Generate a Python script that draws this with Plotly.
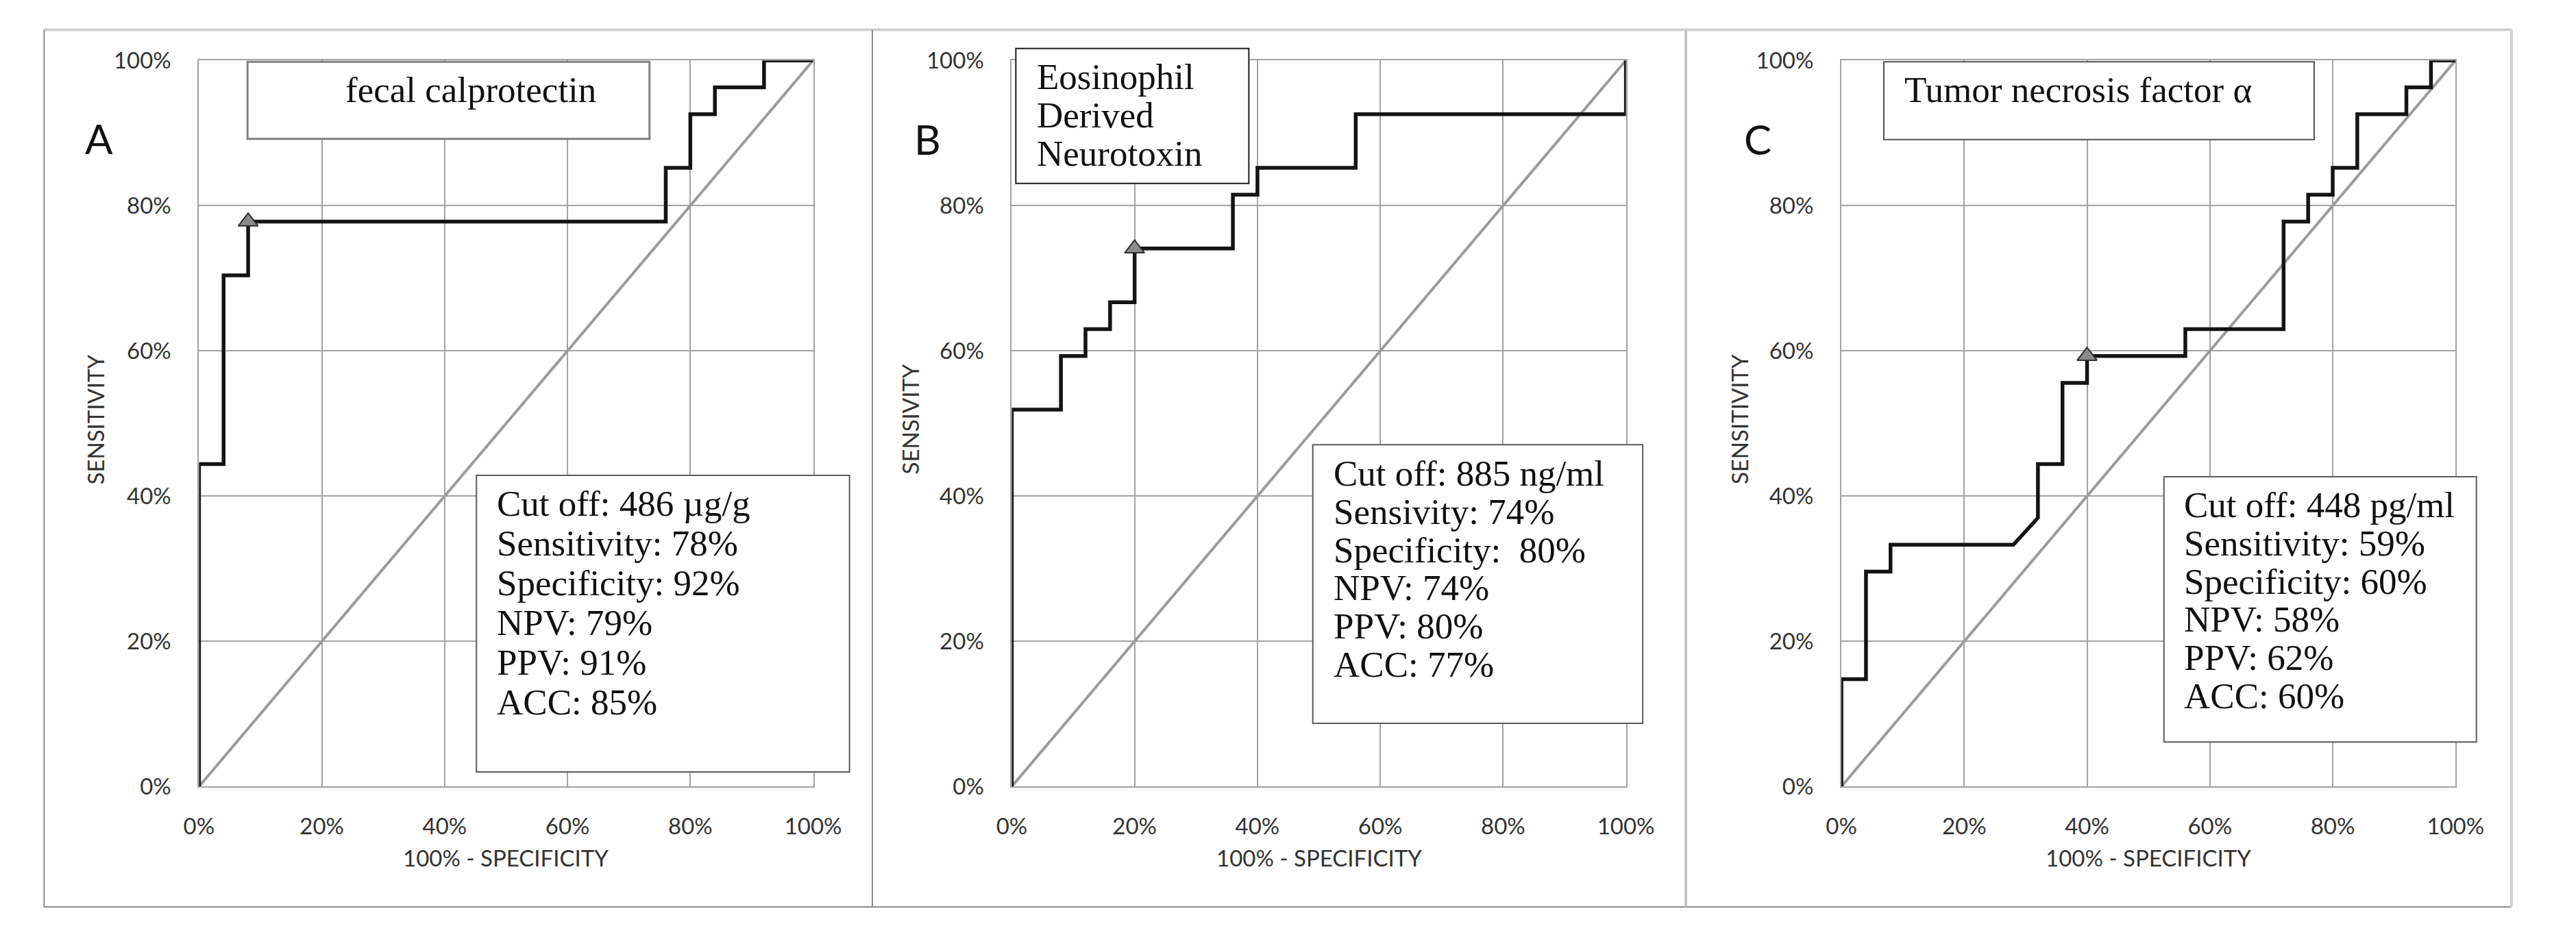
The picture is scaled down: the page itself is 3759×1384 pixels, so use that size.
import plotly.graph_objects as go

# ---------------- data ----------------
panel_letters = ["A", "B", "C"]
panel_titles = [["fecal calprotectin"], ["Eosinophil", "Derived", "Neurotoxin"], ["Tumor necrosis factor α"]]
y_titles = ["SENSITIVITY", "SENSIVITY", "SENSITIVITY"]
x_title = "100% - SPECIFICITY"
tick_vals = [0, 20, 40, 60, 80, 100]
tick_text = ["0%", "20%", "40%", "60%", "80%", "100%"]

fpr_a = [0, 0, 4, 4, 8, 8, 76, 76, 80, 80, 84, 84, 92, 92, 100]
tpr_a = [0, 44.4, 44.4, 70.4, 70.4, 77.8, 77.8, 85.2, 85.2, 92.6, 92.6, 96.3, 96.3, 100, 100]

fpr_b = [0, 0, 8, 8, 12, 12, 16, 16, 20, 20, 36, 36, 40, 40, 56, 56, 100, 100]
tpr_b = [0, 51.9, 51.9, 59.3, 59.3, 63.0, 63.0, 66.7, 66.7, 74.1, 74.1, 81.5, 81.5, 85.2, 85.2, 92.6, 92.6, 100]

fpr_c = [0, 0, 4, 4, 8, 8, 28, 32, 32, 36, 36, 40, 40, 56, 56, 72, 72, 76, 76, 80, 80, 84, 84, 92, 92, 96, 96, 100]
tpr_c = [0, 14.8, 14.8, 29.6, 29.6, 33.3, 33.3, 37.0, 44.4, 44.4, 55.6, 55.6, 59.3, 59.3, 63.0, 63.0,
         77.8, 77.8, 81.5, 81.5, 85.2, 85.2, 92.6, 92.6, 96.3, 96.3, 100, 100]

cut_fpr = [8, 20, 40]
cut_tpr = [77.8, 74.1, 59.3]

ref_x = [0, 100]
ref_y = [0, 100]

stats_a = ["Cut off: 486 µg/g", "Sensitivity: 78%", "Specificity: 92%", "NPV: 79%", "PPV: 91%", "ACC: 85%"]
stats_b = ["Cut off: 885 ng/ml", "Sensivity: 74%", "Specificity:  80%", "NPV: 74%", "PPV: 80%", "ACC: 77%"]
stats_c = ["Cut off: 448 pg/ml", "Sensitivity: 59%", "Specificity: 60%", "NPV: 58%", "PPV: 62%", "ACC: 60%"]

curves = [(fpr_a, tpr_a), (fpr_b, tpr_b), (fpr_c, tpr_c)]
stats = [stats_a, stats_b, stats_c]

# ---------------- layout geometry (pixels of the target image) ----------------
W, H = 3759, 1384
M = 8                      # default page body margin around the plot div
FW, FH = W - 2 * M, H - 2 * M


def px(x):
    return (x - M) / FW


def py(y):
    return 1 - (y - M) / FH


plot_x = [(272, 1184), (1479, 2391), (2711, 3623)]
plot_y = (69, 1161)
letter_pos = [(123, 186), (1354, 187), (2587, 187)]
ytitle_x = [118, 1328, 2560]
title_boxes = [(344, 71, 941, 187, "#808080", 3), (1485, 51, 1831, 254, "#1e1e1e", 2), (2774, 71, 3413, 188, "#505050", 2)]
title_text_pos = [("center", 676, [113]), ("left", 1514, [93, 151, 209]), ("left", 2803, [113])]
stats_boxes = [(684, 693, 1238, 1139), (1926, 647, 2416, 1066), (3190, 695, 3654, 1094)]
stats_text_pos = [(712, 735, 59.8), (1955, 690, 57.4), (3218, 737, 57.6)]

SANS = "Lato, 'Open Sans', sans-serif"
SERIF = "'Liberation Serif', 'Times New Roman', serif"
GRID = "#a3a3a3"
TXT = "#333333"

fig = go.Figure()
layout = dict(
    width=FW, height=FH, autosize=False,
    margin=dict(l=0, r=0, t=0, b=0, pad=0),
    paper_bgcolor="white", plot_bgcolor="white",
    showlegend=False,
)

shapes = []
annotations = []

for i in range(3):
    xa = "x" if i == 0 else f"x{i+1}"
    ya = "y" if i == 0 else f"y{i+1}"
    xkey = "xaxis" if i == 0 else f"xaxis{i+1}"
    ykey = "yaxis" if i == 0 else f"yaxis{i+1}"
    x0, x1 = plot_x[i]
    layout[xkey] = dict(
        domain=[px(x0), px(x1)], range=[0, 100], anchor=ya,
        tickvals=tick_vals, ticktext=tick_text, showgrid=True, gridcolor=GRID, gridwidth=2,
        zeroline=False, showline=True, linecolor=GRID, linewidth=2, mirror=True,
        ticks="", ticklabelstandoff=28, tickfont=dict(family=SANS, size=33, color=TXT),
        fixedrange=True,
    )
    layout[ykey] = dict(
        domain=[py(plot_y[1]), py(plot_y[0])], range=[0, 100], anchor=xa,
        tickvals=tick_vals, ticktext=tick_text, showgrid=True, gridcolor=GRID, gridwidth=2,
        zeroline=False, showline=True, linecolor=GRID, linewidth=2, mirror=True,
        ticks="", ticklabelstandoff=32, tickfont=dict(family=SANS, size=33, color=TXT),
        fixedrange=True,
    )
    # reference diagonal
    fig.add_trace(go.Scatter(x=ref_x, y=ref_y, mode="lines", xaxis=xa, yaxis=ya,
                             line=dict(color="#9c9c9c", width=4), cliponaxis=False, hoverinfo="skip"))
    # ROC curve
    fx, ty = curves[i]
    fig.add_trace(go.Scatter(x=fx, y=ty, mode="lines", xaxis=xa, yaxis=ya,
                             line=dict(color="#141414", width=5.5), cliponaxis=False))
    # cutoff marker
    fig.add_trace(go.Scatter(x=[cut_fpr[i]], y=[cut_tpr[i]], mode="markers", xaxis=xa, yaxis=ya,
                             marker=dict(symbol="triangle-up", size=25, color="#8a8a8a",
                                         line=dict(color="#303030", width=2)),
                             cliponaxis=False))

    # title box
    bx0, by0, bx1, by1, bcol, bw = title_boxes[i]
    shapes.append(dict(type="rect", xref="paper", yref="paper", x0=px(bx0), x1=px(bx1),
                       y0=py(by1), y1=py(by0), line=dict(color=bcol, width=bw),
                       fillcolor="white", layer="above"))
    # stats box
    sx0, sy0, sx1, sy1 = stats_boxes[i]
    shapes.append(dict(type="rect", xref="paper", yref="paper", x0=px(sx0), x1=px(sx1),
                       y0=py(sy1), y1=py(sy0), line=dict(color="#5a5a5a", width=2),
                       fillcolor="white", layer="above"))

    # title text
    anchor, tx, tys = title_text_pos[i]
    for line_txt, tyy in zip(panel_titles[i], tys):
        annotations.append(dict(text=line_txt, xref="paper", yref="paper", x=px(tx), y=py(tyy),
                                xanchor=anchor, yanchor="middle", showarrow=False,
                                font=dict(family=SERIF, size=53, color="#111")))
    # stats text
    stx, sty, sdy = stats_text_pos[i]
    for k, line_txt in enumerate(stats[i]):
        annotations.append(dict(text=line_txt, xref="paper", yref="paper", x=px(stx), y=py(sty + k * sdy),
                                xanchor="left", yanchor="middle", showarrow=False,
                                font=dict(family=SERIF, size=53, color="#111")))
    # panel letter
    lx, ly = letter_pos[i]
    annotations.append(dict(text=panel_letters[i], xref="paper", yref="paper", x=px(lx), y=py(ly),
                            xanchor="center", yanchor="middle", showarrow=False,
                            font=dict(family=SANS, size=60, color="#111")))
    # y axis title
    annotations.append(dict(text=y_titles[i], xref="paper", yref="paper", x=px(ytitle_x[i]),
                            y=py((plot_y[0] + plot_y[1]) / 2 - 6), textangle=-90,
                            xanchor="center", yanchor="middle", showarrow=False,
                            font=dict(family=SANS, size=33, color=TXT)))
    # x axis title
    annotations.append(dict(text=x_title, xref="paper", yref="paper", x=px((x0 + x1) / 2), y=py(1268),
                            xanchor="center", yanchor="middle", showarrow=False,
                            font=dict(family=SANS, size=33, color=TXT)))

# panel frames
frame_lines = [
    (42, 23, 3706, 23, "#d0d0d0", 4),
    (42, 1342, 3706, 1342, "#8c8c8c", 2),
    (42, 23, 42, 1342, "#8c8c8c", 2),
    (1272, 23, 1272, 1342, "#8c8c8c", 2),
    (2480, 23, 2480, 1342, "#c4c4c4", 4),
    (3706, 23, 3706, 1342, "#d0d0d0", 4),
]
for (a, b, c, d, col, w) in frame_lines:
    shapes.append(dict(type="line", xref="paper", yref="paper", x0=px(a), y0=py(b), x1=px(c), y1=py(d),
                       line=dict(color=col, width=w), layer="below"))

layout["shapes"] = shapes
layout["annotations"] = annotations
fig.update_layout(**layout)
fig.write_html("out.html")
